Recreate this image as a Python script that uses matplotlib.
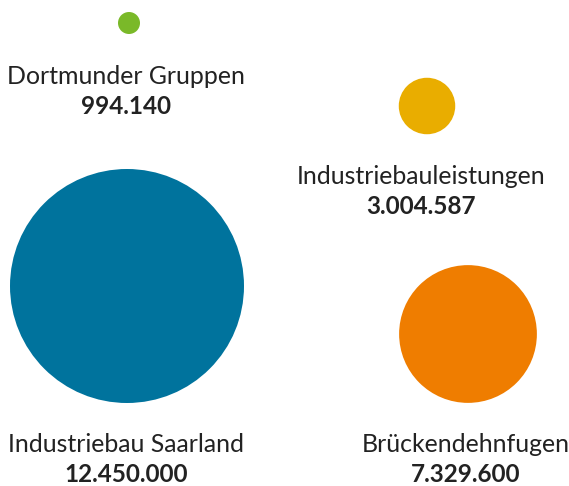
import matplotlib.pyplot as plt
from matplotlib.patches import Circle

names = ["Dortmunder Gruppen", "Industriebauleistungen", "Industriebau Saarland", "Brückendehnfugen"]
values = [994140, 3004587, 12450000, 7329600]
colors = ["#7ab929", "#e9ad00", "#00739d", "#ef7d00"]

# layout in pixel coordinates (centre of circle, label anchor)
centers = [(129, 23), (427, 106), (127, 286), (468, 334)]
label_xy = [(126, 84), (421, 184), (126, 452), (466, 452)]

plt.rcParams['font.family'] = ['Lato', 'DejaVu Sans']

fig = plt.figure(figsize=(5.69, 4.86), dpi=100)
ax = fig.add_axes([0, 0, 1, 1])
ax.set_xlim(0, 569)
ax.set_ylim(486, 0)
ax.set_aspect('equal')
ax.axis('off')

r_max = 117
v_max = max(values)
for name, v, c, (cx, cy), (lx, ly) in zip(names, values, colors, centers, label_xy):
    r = max(v / v_max * r_max, 11)
    ax.add_patch(Circle((cx, cy), r, color=c, lw=0))
    ax.text(lx, ly, name, ha='center', va='baseline', fontsize=17.9, color='#222222')
    txt = f"{v:,}".replace(",", ".")
    ax.text(lx, ly + 30, txt, ha='center', va='baseline', fontsize=17.5,
            fontweight='bold', color='#222222')

fig.savefig('out.png', dpi=100)
